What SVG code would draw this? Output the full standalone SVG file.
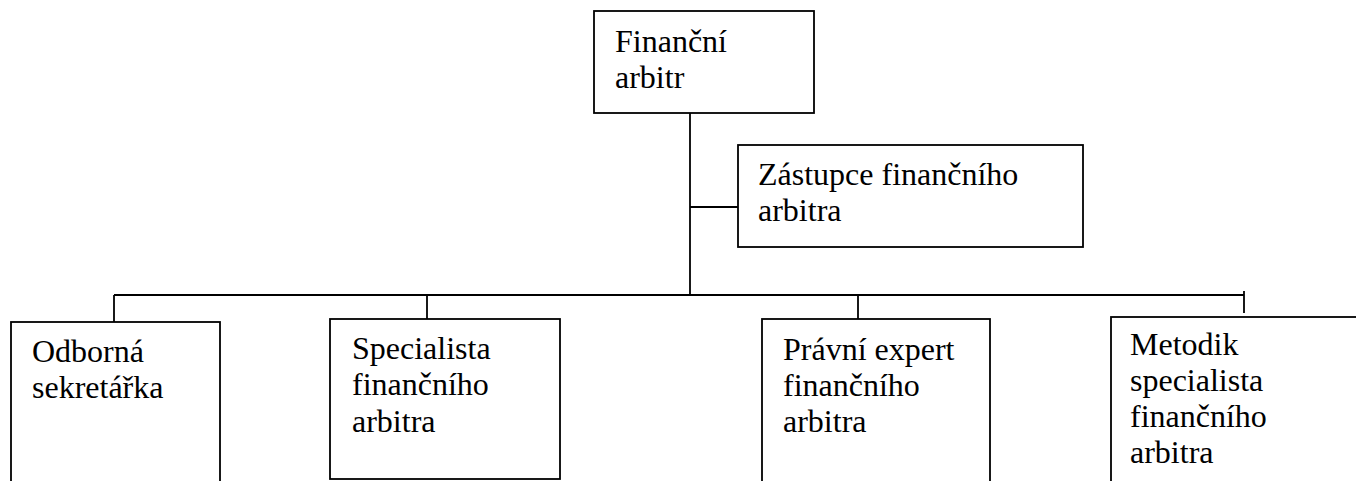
<svg xmlns="http://www.w3.org/2000/svg" width="1356" height="481" viewBox="0 0 1356 481">
<style>
  .box { fill: #ffffff; stroke: #000000; stroke-width: 1.8; }
  .conn line { stroke: #000000; stroke-width: 1.8; }
  text { font-family: "Liberation Serif", "Times New Roman", serif; font-size: 32px; fill: #000000; }
</style>
<rect width="1356" height="481" fill="#ffffff"/>
<g id="connectors" class="conn">
  <line x1="690" y1="113" x2="690" y2="295"/>
  <line x1="690" y1="207" x2="738" y2="207"/>
  <line x1="114" y1="295" x2="1244" y2="295"/>
  <line x1="114" y1="295" x2="114" y2="322"/>
  <line x1="427" y1="295" x2="427" y2="319"/>
  <line x1="858" y1="295" x2="858" y2="319"/>
  <line x1="1244" y1="291" x2="1244" y2="313"/>
</g>
<g id="node-financni-arbitr">
  <rect class="box" x="594" y="11" width="220" height="102"/>
  <text x="615" y="52">Finanční</text>
  <text x="615" y="88">arbitr</text>
</g>
<g id="node-zastupce">
  <rect class="box" x="738" y="145" width="345" height="102"/>
  <text x="758" y="185">Zástupce finančního</text>
  <text x="758" y="221">arbitra</text>
</g>
<g id="node-odborna">
  <rect class="box" x="11" y="322" width="209" height="175"/>
  <text x="32" y="362">Odborná</text>
  <text x="32" y="398">sekretářka</text>
</g>
<g id="node-specialista">
  <rect class="box" x="330" y="319" width="230" height="160"/>
  <text x="352" y="359">Specialista</text>
  <text x="352" y="395">finančního</text>
  <text x="352" y="432">arbitra</text>
</g>
<g id="node-pravni">
  <rect class="box" x="762" y="319" width="228" height="175"/>
  <text x="783" y="360">Právní expert</text>
  <text x="783" y="396">finančního</text>
  <text x="783" y="432">arbitra</text>
</g>
<g id="node-metodik">
  <rect class="box" x="1111" y="317" width="260" height="180"/>
  <text x="1130" y="355">Metodik</text>
  <text x="1130" y="391">specialista</text>
  <text x="1130" y="427">finančního</text>
  <text x="1130" y="463">arbitra</text>
</g>
</svg>
